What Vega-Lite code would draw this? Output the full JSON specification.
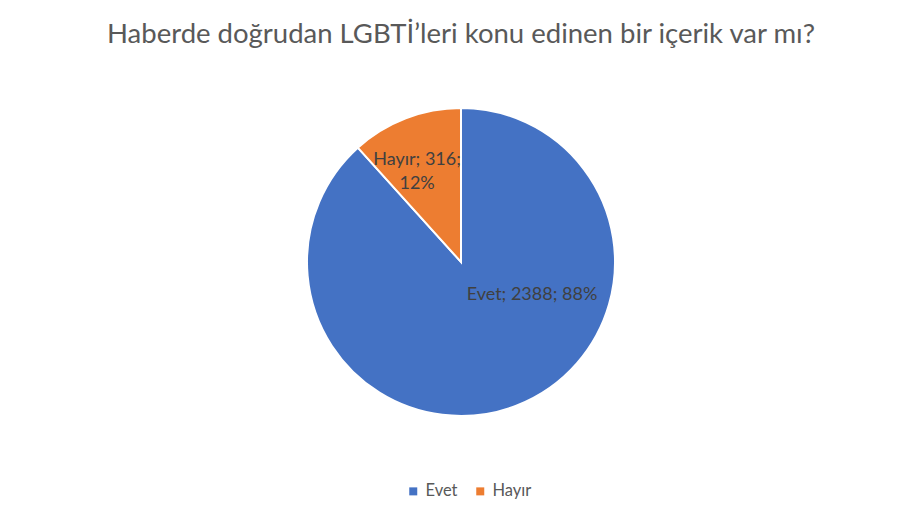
{
  "$schema": "https://vega.github.io/schema/vega-lite/v6.json",
  "width": 902,
  "height": 524,
  "autosize": {"type": "fit", "contains": "padding"},
  "padding": {"left": 20, "right": 0, "top": 20, "bottom": 58},
  "background": "white",
  "title": {
    "text": "Haberde doğrudan LGBTİ’leri konu edinen bir içerik var mı?",
    "font": "Lato",
    "fontSize": 27.5,
    "fontWeight": "normal",
    "color": "#595959",
    "anchor": "middle",
    "offset": 10
  },
  "data": {
    "values": [
      {"cevap": "Evet", "sayi": 2388, "sira": 1, "etiket": "Evet; 2388; 88%"},
      {"cevap": "Hayır", "sayi": 316, "sira": 2, "etiket": "Hayır; 316;\n12%"}
    ]
  },
  "encoding": {
    "theta": {"field": "sayi", "type": "quantitative", "stack": true},
    "order": {"field": "sira", "type": "quantitative"}
  },
  "layer": [
    {
      "mark": {"type": "arc", "outerRadius": 154, "stroke": "white", "strokeWidth": 2},
      "encoding": {
        "color": {
          "field": "cevap",
          "type": "nominal",
          "scale": {"domain": ["Evet", "Hayır"], "range": ["#4472C4", "#ED7D31"]},
          "legend": {
            "title": null,
            "orient": "none",
            "legendX": 385,
            "legendY": 425,
            "direction": "horizontal",
            "symbolType": "square",
            "symbolSize": 64,
            "symbolStrokeWidth": 0,
            "labelFont": "Lato",
            "labelFontSize": 16.5,
            "labelColor": "#595959",
            "columnPadding": 14
          }
        }
      }
    },
    {
      "mark": {"type": "text", "radius": 100, "dx": -8, "dy": -9, "font": "Lato", "fontSize": 18, "lineHeight": 24, "color": "#404040", "lineBreak": "\n", "align": "center", "baseline": "middle"},
      "encoding": {
        "text": {"condition": {"test": "datum.cevap === 'Hayır'", "field": "etiket"}, "value": ""}
      }
    },
    {
      "mark": {"type": "text", "radius": 78, "dx": 43, "dy": -40, "font": "Lato", "fontSize": 18, "color": "#404040", "align": "center", "baseline": "middle"},
      "encoding": {
        "text": {"condition": {"test": "datum.cevap === 'Evet'", "field": "etiket"}, "value": ""}
      }
    }
  ]
}
